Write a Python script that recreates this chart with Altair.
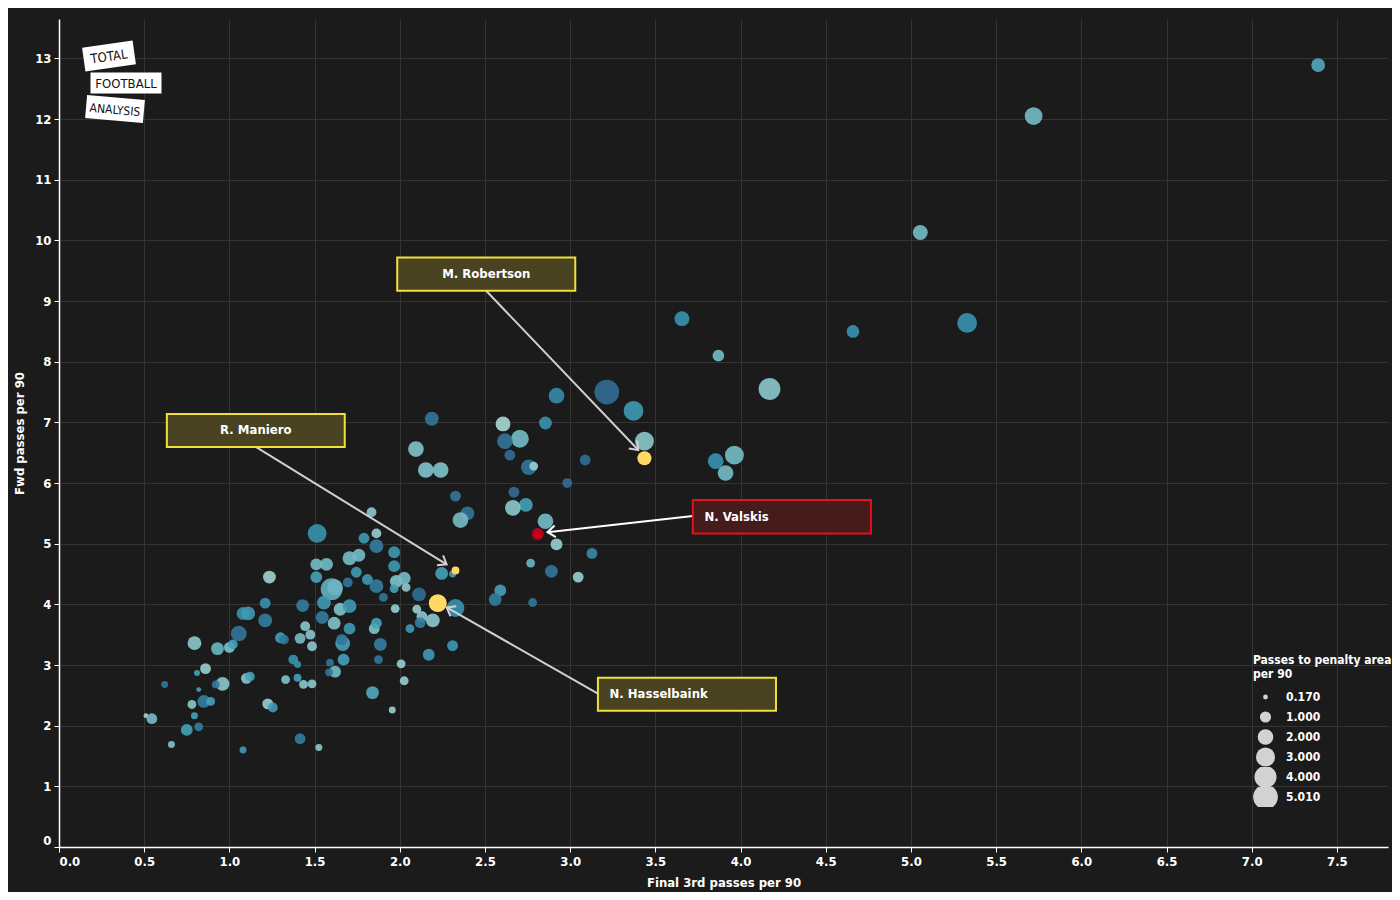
import math
import altair as alt
import pandas as pd

# ---------------- data ----------------
fin3 = [7.39, 5.72, 5.055, 3.656, 4.66, 5.33, 3.87, 4.17, 3.215, 3.372,
        2.92, 2.855, 2.606, 2.705, 2.617, 3.436, 3.088, 3.964, 3.854, 3.912,
        2.188, 2.095, 2.153, 2.24, 2.646, 2.757, 2.786, 2.983, 2.327, 2.397,
        2.356, 2.67, 2.74, 2.664, 2.855, 2.92, 3.128, 2.768, 2.89, 3.047,
        2.59, 2.56, 2.78, 1.967, 1.967, 2.246, 2.31, 2.327, 2.113, 1.515,
        1.834, 1.863, 1.79, 1.863, 1.51, 1.57, 1.705, 1.76, 1.51, 1.745,
        1.695, 1.81, 1.863, 1.60, 1.62, 1.555, 1.65, 1.705, 1.904, 1.98,
        2.026, 2.037, 1.967, 1.973, 2.10, 2.13, 2.194, 2.12, 1.43, 1.445,
        1.545, 1.615, 1.705, 2.06, 1.475, 1.415, 1.485, 1.665, 1.66, 1.67,
        1.59, 1.62, 1.585, 1.40, 1.435, 1.485, 1.85, 1.863, 1.886, 1.875,
        2.17, 2.31, 2.008, 2.026, 1.84, 1.956, 1.415, 1.525, 1.235, 1.21,
        1.08, 1.11, 1.21, 1.055, 0.795, 0.93, 1.0, 1.02, 1.30, 1.32,
        1.375, 1.40, 1.33, 0.86, 0.81, 0.62, 0.82, 0.96, 0.92, 1.10,
        1.12, 0.85, 0.89, 0.78, 1.225, 1.255, 0.795, 0.51, 0.545, 0.75,
        0.82, 0.66, 1.08]
fwd = [12.89, 12.05, 10.13, 8.71, 8.50, 8.64, 8.10, 7.55, 7.50, 7.19,
       7.44, 6.99, 6.975, 6.73, 6.69, 6.69, 6.38, 6.46, 6.36, 6.165,
       7.06, 6.56, 6.215, 6.215, 6.46, 6.26, 6.28, 6.0, 5.785, 5.50,
       5.39, 5.85, 5.64, 5.59, 5.37, 4.99, 4.84, 4.68, 4.545, 4.45,
       4.23, 4.08, 4.03, 4.86, 4.63, 4.51, 4.50, 3.94, 4.165, 5.17,
       5.52, 5.17, 5.09, 4.96, 4.66, 4.66, 4.76, 4.81, 4.45, 4.53,
       4.36, 4.41, 4.30, 4.25, 4.28, 4.03, 3.92, 3.97, 4.115, 4.38,
       4.43, 4.28, 4.26, 3.93, 3.92, 3.80, 3.735, 3.70, 3.98, 3.64,
       3.785, 3.69, 3.60, 3.60, 3.50, 3.44, 3.31, 3.355, 3.42, 3.09,
       3.04, 2.89, 2.88, 2.79, 2.68, 2.69, 3.60, 3.69, 3.34, 3.09,
       3.17, 3.32, 3.02, 2.74, 2.545, 2.26, 1.785, 1.64, 4.45, 4.02,
       3.85, 3.85, 3.735, 3.52, 3.36, 3.27, 3.29, 3.34, 3.45, 3.42,
       3.09, 3.01, 2.76, 2.94, 2.87, 2.68, 2.595, 2.69, 2.68, 2.78,
       2.81, 2.40, 2.40, 2.35, 2.36, 2.30, 2.165, 2.165, 2.115, 1.93,
       1.98, 1.69, 1.60]
ppa = [1.55, 2.6, 1.8, 1.8, 1.3, 3.2, 1.1, 3.9, 5.01, 3.2,
       2.0, 1.33, 1.8, 2.6, 2.0, 2.9, 0.94, 2.9, 2.0, 2.0,
       1.55, 2.0, 2.0, 2.0, 0.94, 2.0, 0.62, 0.77, 0.94, 1.55,
       2.0, 0.94, 1.55, 2.0, 2.0, 1.13, 0.94, 0.62, 1.33, 0.94,
       1.13, 1.33, 0.62, 1.13, 1.13, 1.33, 0.37, 2.6, 1.55, 2.9,
       0.77, 0.77, 0.94, 1.55, 1.13, 1.33, 1.55, 1.33, 1.13, 0.94,
       0.77, 0.94, 1.55, 3.9, 2.0, 1.55, 1.33, 1.55, 0.62, 1.33,
       1.33, 0.62, 0.62, 0.62, 0.62, 0.94, 1.55, 0.94, 1.33, 0.77,
       1.33, 1.33, 1.13, 0.62, 0.77, 0.94, 0.77, 1.78, 1.0, 1.13,
       0.48, 1.13, 0.48, 0.48, 0.62, 0.62, 0.94, 0.94, 1.33, 0.62,
       1.13, 0.94, 0.62, 0.62, 1.33, 0.37, 0.94, 0.37, 1.33, 0.94,
       1.33, 1.55, 1.55, 2.0, 1.55, 1.33, 0.94, 0.77, 0.94, 0.77,
       0.77, 0.37, 0.62, 0.94, 0.27, 0.37, 0.17, 1.55, 0.48, 0.94,
       0.77, 1.33, 0.62, 0.62, 0.94, 0.77, 0.37, 0.17, 0.94, 1.13,
       0.62, 0.37, 0.37]
shade = [0.45, 0.3, 0.3, 0.6, 0.6, 0.6, 0.3, 0.2, 0.85, 0.55,
         0.65, 0.6, 0.08, 0.3, 0.8, 0.2, 0.85, 0.3, 0.6, 0.3,
         0.8, 0.25, 0.25, 0.25, 0.85, 0.8, 0.15, 0.85, 0.8, 0.8,
         0.3, 0.85, 0.5, 0.2, 0.3, 0.15, 0.65, 0.35, 0.8, 0.15,
         0.5, 0.75, 0.8, 0.55, 0.55, 0.5, 0.5, 0.6, 0.85, 0.6,
         0.2, 0.15, 0.55, 0.75, 0.3, 0.3, 0.3, 0.3, 0.5, 0.55,
         0.8, 0.55, 0.75, 0.38, 0.35, 0.55, 0.25, 0.55, 0.8, 0.25,
         0.3, 0.2, 0.5, 0.15, 0.15, 0.2, 0.2, 0.75, 0.75, 0.2,
         0.75, 0.25, 0.55, 0.55, 0.2, 0.3, 0.2, 0.5, 0.8, 0.5,
         0.8, 0.3, 0.8, 0.5, 0.2, 0.2, 0.25, 0.5, 0.75, 0.8,
         0.55, 0.55, 0.15, 0.15, 0.45, 0.15, 0.75, 0.2, 0.12, 0.6,
         0.6, 0.55, 0.75, 0.8, 0.2, 0.35, 0.25, 0.5, 0.5, 0.8,
         0.6, 0.6, 0.25, 0.15, 0.5, 0.8, 0.5, 0.2, 0.8, 0.2,
         0.5, 0.75, 0.5, 0.2, 0.15, 0.55, 0.5, 0.1, 0.3, 0.5,
         0.75, 0.25, 0.55]

players = ["M. Robertson", "R. Maniero", "N. Hasselbaink", "N. Valskis"]
pl_fin3 = [3.436, 2.327, 2.223, 2.81]
pl_fwd = [6.41, 4.56, 4.02, 5.16]
pl_ppa = [1.6, 0.48, 2.6, 1.13]
pl_kind = ["gold", "gold", "gold", "red"]

# annotation boxes (data coordinates)
box_x1 = [1.985, 0.633, 3.163, 3.72]
box_x2 = [3.03, 1.677, 4.208, 4.765]
box_y1 = [9.17, 6.595, 2.248, 5.17]
box_y2 = [9.72, 7.14, 2.79, 5.72]
label_align = ["center", "center", "left", "left"]
# arrows (data coordinates)
arr_x1 = [2.507, 1.155, 3.163, 3.72]
arr_y1 = [9.17, 6.595, 2.53, 5.455]
arr_x2 = [3.40, 2.275, 2.275, 2.867]
arr_y2 = [6.545, 4.66, 3.95, 5.19]

x_ticks = [i * 0.5 for i in range(16)]
y_ticks = list(range(14))
legend_vals = [0.17, 1.0, 2.0, 3.0, 4.0, 5.01]

# ---------------- layout ----------------
TOTAL_W, TOTAL_H = 1384, 884
W, H = 1328, 826          # approximate plot size (used for arrow-head angles)
XMAX, YMAX = 7.8, 13.65
FONT = "DejaVu Sans Condensed, sans-serif"
BG = "#1b1b1b"
GOLD = "#ffd966"
RED = "#c0001a"

df = pd.DataFrame({"fin3": fin3, "fwd": fwd, "ppa": ppa, "shade": shade})
pl = pd.DataFrame({"fin3": pl_fin3, "fwd": pl_fwd, "ppa": pl_ppa,
                   "kind": pl_kind, "player": players})

ann = pd.DataFrame({
    "player": players, "kind": pl_kind,
    "bx1": box_x1, "bx2": box_x2, "by1": box_y1, "by2": box_y2,
    "align": label_align,
    "ax1": arr_x1, "ay1": arr_y1, "ax2": arr_x2, "ay2": arr_y2,
})
ann["cx"] = (ann["bx1"] + ann["bx2"]) / 2
ann["lx"] = ann["bx1"] + 0.068
ann["cy"] = (ann["by1"] + ann["by2"]) / 2
ann["ang"] = [
    math.degrees(math.atan2(-(y2 - y1) * H / YMAX, (x2 - x1) * W / XMAX)) % 360
    for x1, y1, x2, y2 in zip(ann["ax1"], ann["ay1"], ann["ax2"], ann["ay2"])
]

xs = alt.Scale(domain=[0, XMAX], nice=False, zero=False)
ys = alt.Scale(domain=[0, YMAX], nice=False, zero=False)
xaxis = alt.Axis(values=x_ticks, format=".1f", labelFlush=True)
yaxis = alt.Axis(values=y_ticks, format="d", labelFlush=True)
XT = "Final 3rd passes per 90"
YT = "Fwd passes per 90"


def X(f):
    return alt.X(f, type="quantitative", scale=xs, axis=xaxis, title=XT)


def Y(f):
    return alt.Y(f, type="quantitative", scale=ys, axis=yaxis, title=YT)


size_scale = alt.Scale(domain=[0.17, 5.01], range=[24, 610], zero=False)
size_enc = alt.Size(
    "ppa:Q", scale=size_scale,
    legend=alt.Legend(
        title=["Passes to penalty area", "per 90"],
        values=legend_vals, format=".3f",
        orient="none", legendX=1194, legendY=636,
        titleColor="#ffffff", titleFont=FONT, titleFontSize=12,
        titleFontWeight="bold", titleLimit=300, titlePadding=6,
        labelColor="#ffffff", labelFont=FONT, labelFontSize=12,
        labelFontWeight="bold", labelOffset=8,
        symbolFillColor="#dcdcdc", symbolStrokeColor="#dcdcdc",
        symbolStrokeWidth=0, symbolOpacity=0.95, symbolType="circle",
        clipHeight=20, rowPadding=0, padding=0, offset=0,
    ),
)
size_plain = alt.Size("ppa:Q", scale=size_scale, legend=None)

points = alt.Chart(df).mark_circle(opacity=0.9).encode(
    x=X("fin3"), y=Y("fwd"), size=size_enc,
    color=alt.Color("shade:Q", scale=alt.Scale(scheme="tealblues", domain=[0, 1]),
                    legend=None),
)

gold_pts = alt.Chart(pl).transform_filter(alt.datum.kind == "gold").mark_circle(
    opacity=1, color=GOLD).encode(x=X("fin3"), y=Y("fwd"), size=size_plain)
red_pts = alt.Chart(pl).transform_filter(alt.datum.kind == "red").mark_circle(
    opacity=1, color=RED).encode(x=X("fin3"), y=Y("fwd"), size=size_plain)
highlights = alt.layer(gold_pts, red_pts)

gold_ann = alt.Chart(ann).transform_filter(alt.datum.kind == "gold")
red_ann = alt.Chart(ann).transform_filter(alt.datum.kind == "red")

arrows_g = gold_ann.mark_rule(color="#d0d0d0", strokeWidth=2).encode(
    x=X("ax1"), y=Y("ay1"), x2="ax2:Q", y2="ay2:Q")
arrows_r = red_ann.mark_rule(color="#ffffff", strokeWidth=2).encode(
    x=X("ax1"), y=Y("ay1"), x2="ax2:Q", y2="ay2:Q")
HEAD = "M-1,-0.75L0,0L-1,0.75"
heads_g = gold_ann.mark_point(shape=HEAD, filled=False, color="#d0d0d0",
                              strokeWidth=2, size=240, opacity=1).encode(
    x=X("ax2"), y=Y("ay2"), angle=alt.Angle("ang:Q", scale=None))
heads_r = red_ann.mark_point(shape=HEAD, filled=False, color="#ffffff",
                             strokeWidth=2, size=240, opacity=1).encode(
    x=X("ax2"), y=Y("ay2"), angle=alt.Angle("ang:Q", scale=None))

boxes_g = gold_ann.mark_rect(fill="#4a4322", stroke="#f2e03a", strokeWidth=2).encode(
    x=X("bx1"), x2="bx2:Q", y=Y("by1"), y2="by2:Q")
boxes_r = red_ann.mark_rect(fill="#451b1b", stroke="#e8101c", strokeWidth=2).encode(
    x=X("bx1"), x2="bx2:Q", y=Y("by1"), y2="by2:Q")

lab_center = alt.Chart(ann).transform_filter(alt.datum.align == "center").mark_text(
    align="center", baseline="middle", color="#ffffff", font=FONT,
    fontSize=13, fontWeight="bold").encode(x=X("cx"), y=Y("cy"), text="player:N")
lab_left = alt.Chart(ann).transform_filter(alt.datum.align == "left").mark_text(
    align="left", baseline="middle", color="#ffffff", font=FONT,
    fontSize=13, fontWeight="bold").encode(x=X("lx"), y=Y("cy"), text="player:N")

# ---------------- logo ----------------
logo_words = ["TOTAL", "FOOTBALL", "ANALYSIS"]
one = pd.DataFrame({"w": [0]})


def logo_piece(word, px, py, w, h, ang, fs):
    path = "M-1,-{0:.3f}L1,-{0:.3f}L1,{0:.3f}L-1,{0:.3f}Z".format(h / w)
    card = alt.Chart(one).mark_point(shape=path, filled=True, fill="#ffffff",
                                     strokeWidth=0, opacity=1, size=w * w).encode(
        x=alt.value(px), y=alt.value(py), angle=alt.value(ang))
    txt = alt.Chart(one).mark_text(text=word, color="#111111", font="DejaVu Sans Condensed",
                                   fontSize=fs, align="center", baseline="middle",
                                   angle=ang).encode(x=alt.value(px), y=alt.value(py + 1))
    return [card, txt]


logo = []
logo += logo_piece(logo_words[0], 50, 37, 51, 24, 352, 13)
logo += logo_piece(logo_words[1], 67, 64, 71, 21, 0, 13)
logo += logo_piece(logo_words[2], 56, 90, 58, 23, 5, 12)

main = alt.layer(
    points, arrows_g, arrows_r, heads_g, heads_r,
    boxes_g, boxes_r, lab_center, lab_left, *logo,
)

chart = alt.layer(main, highlights).resolve_scale(size="independent").properties(
    width=TOTAL_W, height=TOTAL_H, background=BG,
    autosize=alt.AutoSizeParams(type="fit", contains="padding"),
    padding={"left": 5, "top": 11, "right": 4, "bottom": 3},
).configure_view(stroke=None).configure_axis(
    grid=True, gridColor="#343434", gridWidth=1,
    domainColor="#ffffff", domainWidth=1.5,
    tickColor="#ffffff", tickSize=5, tickWidth=1,
    labelColor="#ffffff", labelFont=FONT, labelFontSize=13,
    labelFontWeight="bold", labelPadding=3,
    titleColor="#ffffff", titleFont=FONT, titleFontSize=13,
    titleFontWeight="bold", titlePadding=8,
)

chart.save("out.html", embed_options={"renderer": "svg", "actions": False})
